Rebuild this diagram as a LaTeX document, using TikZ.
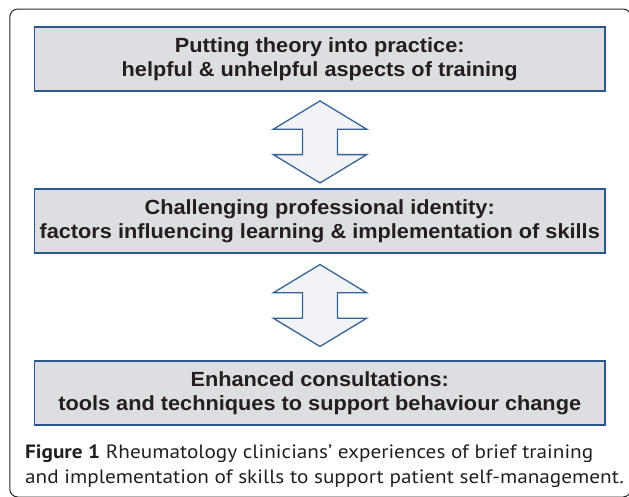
\documentclass[tikz,border=0pt]{standalone}
\usepackage{fontspec}
\setmainfont{Liberation Sans}
\newfontfamily\boxfont[FakeStretch=1.06]{Liberation Sans}
\newfontfamily\capfont[FakeStretch=1.1]{PT Sans}
\definecolor{boxfill}{RGB}{221,222,225}
\definecolor{boxline}{RGB}{42,88,138}
\definecolor{arrfill}{RGB}{241,243,246}
\definecolor{arrline}{RGB}{55,100,150}
\definecolor{txt}{RGB}{35,31,32}
\tikzset{
  themebox/.style={draw=boxline, line width=1.6pt, fill=boxfill, minimum width=570.7pt, minimum height=64pt, inner sep=0pt,
    align=center, text=txt, font=\boxfont\bfseries\fontsize{20.5}{24}\selectfont,
    execute at begin node={\rule{0pt}{19.6pt}}},
  dblarrow/.style={draw=arrline, line width=1.3pt, fill=arrfill, line join=miter},
  captext/.style={anchor=base west, inner sep=0pt, text=txt, font=\capfont\fontsize{19.3}{25}\selectfont},
  frame/.style={draw=black!85, line width=1pt, rounded corners=8pt}
}
\begin{document}
\begin{tikzpicture}[x=1pt,y=-1pt]
\useasboundingbox (0,0) rectangle (629,496);
\draw[frame] (9.8,9) rectangle (631,497);
\node[themebox] (b1) at (319.7,59) {Putting theory into practice:\\helpful \& unhelpful aspects of training};
\node[themebox] (b2) at (319.7,221.2) {Challenging professional identity:\\factors influencing learning \& implementation of skills};
\node[themebox] (b3) at (319.7,393) {Enhanced consultations:\\tools and techniques to support behaviour change};
\coordinate (a1) at (320,141.9);
\coordinate (a2) at (320,305.5);
\foreach \a in {a1,a2}{
  \draw[dblarrow] (\a) ++(0,-41) -- ++(46.7,28.3) -- ++(-29.2,0) -- ++(0,25.4) -- ++(29.2,0) -- ++(-46.7,28.3)
     -- ++(-46.7,-28.3) -- ++(29.2,0) -- ++(0,-25.4) -- ++(-29.2,0) -- cycle;
}
\node[captext] (c1) at (25,458.3) {\textbf{Figure 1} Rheumatology clinicians’ experiences of brief training};
\node[captext] (c2) at (25,483.3) {and implementation of skills to support patient self-management.};
\end{tikzpicture}
\end{document}
